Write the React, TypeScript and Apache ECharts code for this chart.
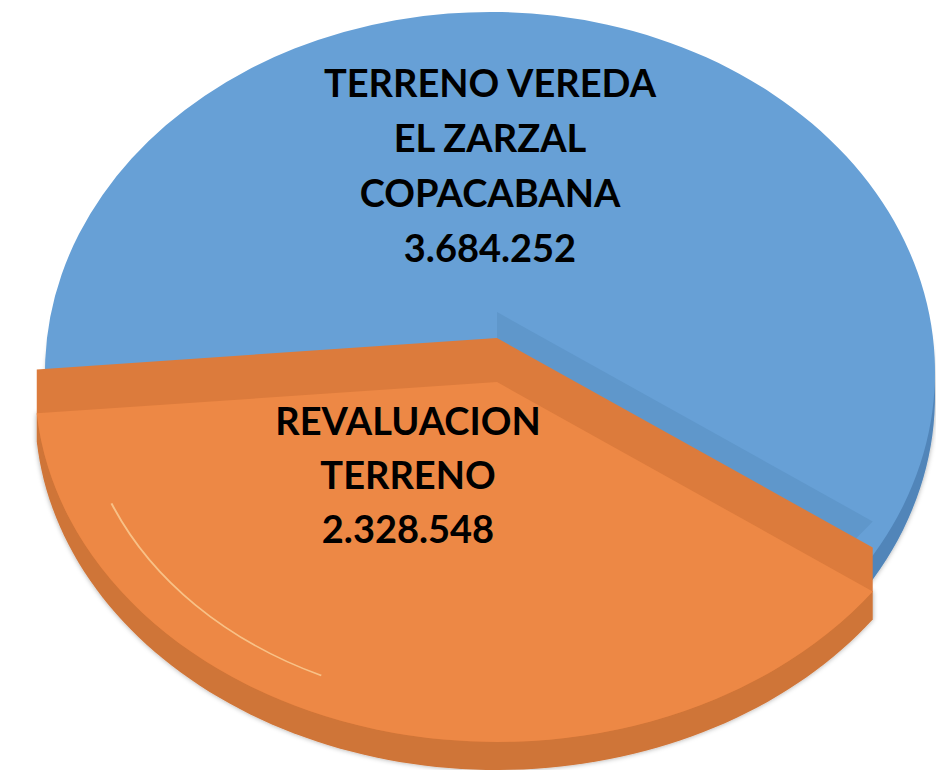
import React, { useEffect, useRef } from "react";
import * as echarts from "echarts";

const categories = ["TERRENO VEREDA\nEL ZARZAL\nCOPACABANA", "REVALUACION\nTERRENO"];
const values = [3684252, 2328548];

const START_DEG = 175;

const sliceStyles = [
  {
    cx: 490, cy: 372, rx: 445, ry: 360, depth: 24,
    top: "#67a0d6", side: "#5185b9",
    wall: { cx: 497, cy: 312, rx: 462, ry: 360, fill: "#5f97cb" },
    label: [490, 164], lineHeight: 55,
  },
  {
    cx: 497, cy: 382, rx: 462, ry: 360, depth: 28, lift: 44,
    top: "#ed8845", side: "#cf7437", band: "#dc7b3c",
    label: [408, 474], lineHeight: 54,
  },
];

const fmt = (v: number) => String(v).replace(/\B(?=(\d{3})+(?!\d))/g, ".");
const rad = (d: number) => (d * Math.PI) / 180;

const ell = (cx: number, cy: number, rx: number, ry: number, a0: number, a1: number, style: any) => ({
  type: "sector",
  x: cx,
  y: cy,
  scaleY: ry / rx,
  shape: { cx: 0, cy: 0, r: rx, r0: 0, startAngle: a0, endAngle: a1, clockwise: true },
  style,
});

function hull(points: number[][]) {
  const p = points.slice().sort((a, b) => (a[0] === b[0] ? a[1] - b[1] : a[0] - b[0]));
  const cross = (o: number[], a: number[], b: number[]) =>
    (a[0] - o[0]) * (b[1] - o[1]) - (a[1] - o[1]) * (b[0] - o[0]);
  const lower: number[][] = [];
  for (const q of p) {
    while (lower.length >= 2 && cross(lower[lower.length - 2], lower[lower.length - 1], q) <= 0) lower.pop();
    lower.push(q);
  }
  const upper: number[][] = [];
  for (let i = p.length - 1; i >= 0; i--) {
    const q = p[i];
    while (upper.length >= 2 && cross(upper[upper.length - 2], upper[upper.length - 1], q) <= 0) upper.pop();
    upper.push(q);
  }
  upper.pop();
  lower.pop();
  return lower.concat(upper);
}

// vertical sweep of an elliptical sector (span < 180deg) between two offsets
function swept(cx: number, cy: number, rx: number, ry: number, a0: number, a1: number, dy1: number, dy2: number, style: any) {
  const pts: number[][] = [];
  const n = 90;
  for (let k = 0; k <= n; k++) {
    const a = a0 + ((a1 - a0) * k) / n;
    const px = cx + rx * Math.cos(a);
    const py = cy + ry * Math.sin(a);
    pts.push([px, py + dy1], [px, py + dy2]);
  }
  pts.push([cx, cy + dy1], [cx, cy + dy2]);
  return { type: "polygon", shape: { points: hull(pts) }, style };
}

export default function App() {
  const ref = useRef<HTMLDivElement>(null);
  useEffect(() => {
    if (!ref.current) return;
    const chart = echarts.init(ref.current, null, { renderer: "svg" });
    const total = values.reduce((a, b) => a + b, 0);
    const renderItem = (params: any, api: any) => {
      const i = params.dataIndex;
      const v = api.value(0);
      let acc = 0;
      for (let j = 0; j < i; j++) acc += values[j];
      const a0 = rad(START_DEG) + (acc / total) * Math.PI * 2;
      const a1 = a0 + (v / total) * Math.PI * 2;
      const s: any = sliceStyles[i];
      const children: any[] = [];
      if (i === 0) {
        children.push(ell(s.cx, s.cy + s.depth, s.rx, s.ry, a0, a1, { fill: s.side, shadowBlur: 5, shadowColor: "rgba(0,0,0,0.35)" }));
        children.push(ell(s.cx, s.cy, s.rx, s.ry, a0, a1, { fill: s.top }));
        const w = s.wall;
        children.push(ell(w.cx, w.cy, w.rx, w.ry, a1, rad(450), { fill: w.fill }));
      } else {
        children.push(swept(s.cx, s.cy, s.rx, s.ry, a0, a1, 0, s.depth, { fill: s.side, shadowBlur: 5, shadowColor: "rgba(0,0,0,0.35)" }));
        children.push(swept(s.cx, s.cy, s.rx, s.ry, a0, a1, -s.lift, 0, { fill: s.band }));
        children.push(ell(s.cx, s.cy, s.rx, s.ry, a0, a1, { fill: s.top }));
        children.push({
          type: "arc",
          x: s.cx,
          y: s.cy,
          scaleY: s.ry / s.rx,
          shape: { cx: 0, cy: 0, r: s.rx * 0.9, startAngle: rad(115), endAngle: rad(158), clockwise: true },
          style: { stroke: "rgba(255,232,180,0.6)", lineWidth: 2, fill: null },
        });
      }
      children.push({
        type: "text",
        x: s.label[0],
        y: s.label[1],
        style: {
          text: categories[i] + "\n" + fmt(v),
          fill: "#000000",
          fontFamily: "Lato",
          fontWeight: "bold",
          fontSize: 38,
          lineHeight: s.lineHeight,
          align: "center",
          verticalAlign: "middle",
        },
      });
      return { type: "group", children };
    };
    chart.setOption({
      animation: false,
      backgroundColor: "#ffffff",
      series: [
        {
          type: "custom",
          coordinateSystem: "none",
          renderItem,
          data: values.map((v, i) => ({ name: categories[i], value: v })),
        },
      ],
    });
    return () => chart.dispose();
  }, []);
  return (
    <div
      ref={ref}
      style={{ position: "fixed", left: 0, top: 0, width: 936, height: 770 }}
    />
  );
}
